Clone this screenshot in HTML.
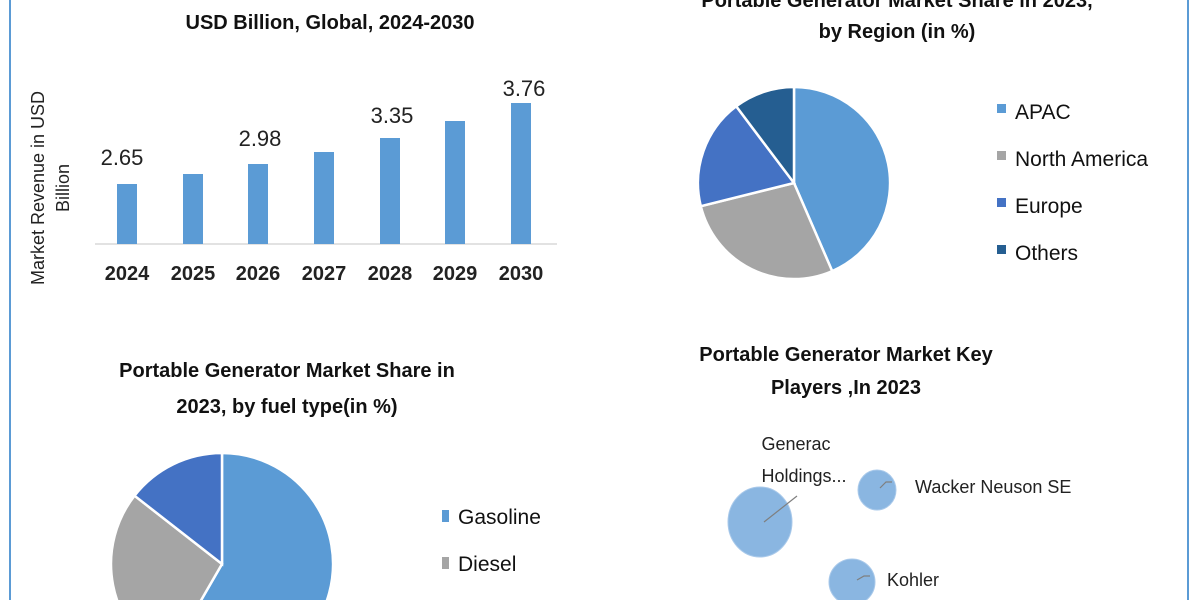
<!DOCTYPE html>
<html><head><meta charset="utf-8"><style>
html,body{margin:0;padding:0;background:#fff;width:1200px;height:600px;overflow:hidden;}
svg{display:block;}
text{font-family:"Liberation Sans",sans-serif;}
</style></head><body>
<svg width="1200" height="600" viewBox="0 0 1200 600">
<rect width="1200" height="600" fill="#fff"/>
<line x1="10" y1="0" x2="10" y2="600" stroke="#5b9bd5" stroke-width="2"/>
<line x1="1188" y1="0" x2="1188" y2="600" stroke="#5b9bd5" stroke-width="2"/>

<!-- Bar chart -->
<text x="330" y="29" font-size="20" font-weight="bold" text-anchor="middle" fill="#111">USD Billion, Global, 2024-2030</text>
<text transform="translate(44,188) rotate(-90)" font-size="18" text-anchor="middle" fill="#222">Market Revenue in USD</text>
<text transform="translate(69,188) rotate(-90)" font-size="18" text-anchor="middle" fill="#222">Billion</text>
<line x1="95" y1="244" x2="557" y2="244" stroke="#d9d9d9" stroke-width="1.5"/>
<g fill="#5b9bd5">
<rect x="117" y="184" width="20" height="60"/>
<rect x="183" y="174" width="20" height="70"/>
<rect x="248" y="164" width="20" height="80"/>
<rect x="314" y="152" width="20" height="92"/>
<rect x="380" y="138" width="20" height="106"/>
<rect x="445" y="121" width="20" height="123"/>
<rect x="511" y="103" width="20" height="141"/>
</g>
<g font-size="22" text-anchor="middle" fill="#222">
<text x="122" y="165">2.65</text>
<text x="260" y="146">2.98</text>
<text x="392" y="123">3.35</text>
<text x="524" y="96">3.76</text>
</g>
<g font-size="20" font-weight="bold" text-anchor="middle" fill="#222">
<text x="127" y="280">2024</text><text x="193" y="280">2025</text><text x="258" y="280">2026</text>
<text x="324" y="280">2027</text><text x="390" y="280">2028</text><text x="455" y="280">2029</text>
<text x="521" y="280">2030</text>
</g>

<!-- Region pie -->
<text x="897" y="7" font-size="20" font-weight="bold" text-anchor="middle" fill="#111">Portable Generator Market Share in 2023,</text>
<text x="897" y="38" font-size="20" font-weight="bold" text-anchor="middle" fill="#111">by Region (in %)</text>
<g stroke="#fff" stroke-width="2.5">
<path d="M794,183 L794,87 A96,96 0 0 1 832.2,271.1 Z" fill="#5b9bd5"/>
<path d="M794,183 L832.2,271.1 A96,96 0 0 1 700.8,206.2 Z" fill="#a5a5a5"/>
<path d="M794,183 L700.8,206.2 A96,96 0 0 1 736.2,106.3 Z" fill="#4472c4"/>
<path d="M794,183 L736.2,106.3 A96,96 0 0 1 794,87 Z" fill="#255e91"/>
</g>
<g font-size="21" fill="#111">
<rect x="997" y="104" width="9" height="9" fill="#5b9bd5"/><text x="1015" y="119">APAC</text>
<rect x="997" y="151" width="9" height="9" fill="#a5a5a5"/><text x="1015" y="166">North America</text>
<rect x="997" y="198" width="9" height="9" fill="#4472c4"/><text x="1015" y="213">Europe</text>
<rect x="997" y="245" width="9" height="9" fill="#255e91"/><text x="1015" y="260">Others</text>
</g>

<!-- Fuel pie -->
<text x="287" y="377" font-size="20" font-weight="bold" text-anchor="middle" fill="#111">Portable Generator Market Share in</text>
<text x="287" y="413" font-size="20" font-weight="bold" text-anchor="middle" fill="#111">2023, by fuel type(in %)</text>
<g stroke="#fff" stroke-width="2.5">
<path d="M222,564 L222,453 A111,111 0 1 1 166.5,660.1 Z" fill="#5b9bd5"/>
<path d="M222,564 L166.5,660.1 A111,111 0 0 1 134.5,495.7 Z" fill="#a5a5a5"/>
<path d="M222,564 L134.5,495.7 A111,111 0 0 1 222,453 Z" fill="#4472c4"/>
</g>
<g font-size="21" fill="#111">
<rect x="442" y="510" width="7" height="12" fill="#5b9bd5"/><text x="458" y="524">Gasoline</text>
<rect x="442" y="557" width="7" height="12" fill="#a5a5a5"/><text x="458" y="571">Diesel</text>
</g>

<!-- Key players -->
<text x="846" y="361" font-size="20" font-weight="bold" text-anchor="middle" fill="#111">Portable Generator Market Key</text>
<text x="846" y="394" font-size="20" font-weight="bold" text-anchor="middle" fill="#111">Players ,In 2023</text>
<g fill="#8ab6e1" stroke="#a9c9ea" stroke-width="1">
<ellipse cx="760" cy="522" rx="32" ry="35"/>
<ellipse cx="877" cy="490" rx="19" ry="20"/>
<ellipse cx="852" cy="582" rx="23" ry="23"/>
</g>
<g stroke="#7f7f7f" stroke-width="1.2" fill="none">
<line x1="764" y1="522" x2="797" y2="496"/>
<path d="M880,488 L886,482 L892,482"/>
<path d="M857,580 L864,576 L870,576"/>
</g>
<g font-size="18" fill="#222">
<text x="796" y="450" text-anchor="middle">Generac</text>
<text x="804" y="482" text-anchor="middle">Holdings...</text>
<text x="915" y="493">Wacker Neuson SE</text>
<text x="887" y="586">Kohler</text>
</g>
</svg>
</body></html>
